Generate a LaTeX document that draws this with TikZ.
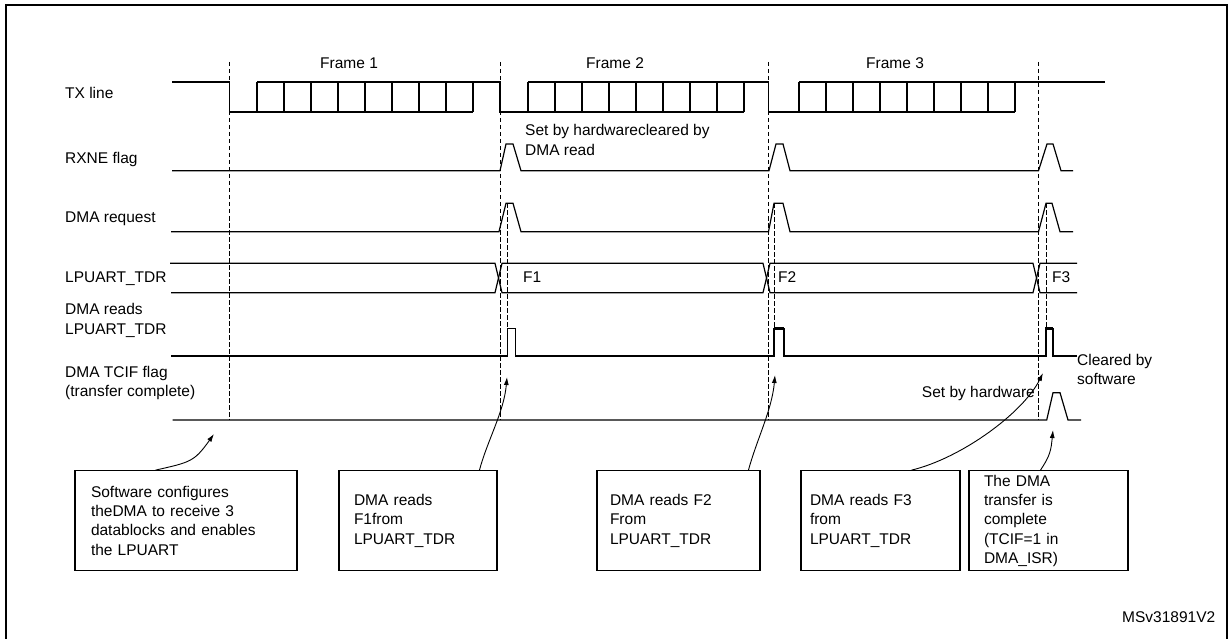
\documentclass[tikz,border=0pt]{standalone}
\usepackage{fontspec}
\setmainfont{Liberation Sans}
\usetikzlibrary{arrows.meta,calc}
\begin{document}
\begin{tikzpicture}[x=1pt,y=-1pt,
  every node/.style={font=\fontsize{15.5}{19.3}\selectfont, inner sep=0pt},
  sig/.style={line width=1.2pt, line join=miter},
  thk/.style={line width=2.4pt},
  guide/.style={dash pattern=on 4.5pt off 2.5pt, line width=1pt},
  note/.style={draw, line width=1.1pt, minimum height=100pt, align=left, inner ysep=0pt},
  arr/.style={line width=0.9pt, -{Latex[length=8pt,width=5pt]}},
  lbl/.style={anchor=base west},
  lbls/.style={anchor=north west, align=left},
]
\useasboundingbox (0,0) rectangle (1231,639);
% frame border
\draw[line width=2pt] (6,639) -- (6,5.5) -- (1227,5.5) -- (1227,639);

% signal names
\node[lbl] (ltx) at (65,98.8) {TX line};
\node[lbl] (lrx) at (65,163.5) {RXNE flag};
\node[lbl] (ldr) at (65,222.2) {DMA request};
\node[lbl] (ltdr) at (65,282.2) {LPUART\_TDR};
\node[lbls] (lrd) at (65,303.5) {DMA reads\\LPUART\_TDR};
\node[lbls] (ltc) at (65,366.2) {DMA TCIF flag\\(transfer complete)};

% frame labels
\node[lbl] (fr1) at (320,68.5) {Frame 1};
\node[lbl] (fr2) at (586,68.5) {Frame 2};
\node[lbl] (fr3) at (866,68.5) {Frame 3};

% dashed time markers
\foreach \x in {229.5,500,768.5,1038.5} \draw[guide] (\x,62) -- (\x,420);
\foreach \x in {507.5,774,1046} \draw[guide] (\x,203.3) -- (\x,356);

% TX line
\draw[sig] (172,82) -- (229.5,82) -- (229.5,112) -- (473,112)
  (257,82) -- (500,82) -- (500,112) -- (744,112)
  (528,82) -- (768.5,82) -- (768.5,112) -- (1015,112)
  (799,82) -- (1105,82);
\foreach \s in {257,528,799}
  \foreach \k in {0,...,8}
    \draw[sig] (\s+\k*27,82) -- (\s+\k*27,112);

% RXNE flag
\draw[sig] (172,170.7) -- (500,170.7) -- (506,144) -- (513,144) -- (521,170.7)
  -- (769,170.7) -- (776,144) -- (783,144) -- (790,170.7)
  -- (1038.5,170.7) -- (1047,144) -- (1053,144) -- (1061,170.7) -- (1073,170.7);
\node[lbls] (rxt) at (525,124.5) {Set by hardwarecleared by\\DMA read};

% DMA request
\draw[sig] (171,231.7) -- (499,231.7) -- (506,203.3) -- (513,203.3) -- (521,231.7)
  -- (768.5,231.7) -- (774,203.3) -- (783,203.3) -- (790,231.7)
  -- (1038.5,231.7) -- (1046,203.3) -- (1052,203.3) -- (1060,231.7) -- (1073,231.7);

% LPUART_TDR bus
\draw[sig] (170,263.3) -- (495,263.3) -- (502,292.7) -- (763,292.7) -- (770,263.3)
  -- (1033,263.3) -- (1040,292.7) -- (1077,292.7);
\draw[sig] (171,292.7) -- (495,292.7) -- (502,263.3) -- (763,263.3) -- (770,292.7)
  -- (1033,292.7) -- (1040,263.3) -- (1077,263.3);
\node[lbl] (bf1) at (523,282.2) {F1};
\node[lbl] (bf2) at (778,282.2) {F2};
\node[lbl] (bf3) at (1052,282.2) {F3};

% DMA reads LPUART_TDR
\draw[sig] (171,356) -- (507.5,356) -- (507.5,328.3) -- (515.7,328.3) -- (515.7,356)
  -- (774,356) -- (774,328.3) -- (784,328.3) -- (784,356)
  -- (1046,356) -- (1046,328.3) -- (1053,328.3) -- (1053,356) -- (1077,356);
\draw[thk] (774,328.3) -- (784,328.3);
\draw[thk] (1046,356) -- (1046,328.3) -- (1053,328.3);
\node[lbls] (clr) at (1077,353.8) {Cleared by\\software};

% DMA TCIF flag
\draw[sig] (172.7,420) -- (1046.7,420) -- (1053,392.7) -- (1060,392.7) -- (1068,420) -- (1081,420);
\node[anchor=base east] (sbh) at (1035,397.2) {Set by hardware};

% notes
\node[note, text width=190pt, inner xsep=16pt] (sw) at (186,520.7)
  {Software configures\\theDMA to receive 3\\datablocks and enables\\the LPUART};
\node[note, text width=128pt, inner xsep=15pt] (n1) at (418,520.7)
  {DMA reads\\F1from\\LPUART\_TDR};
\node[note, text width=137pt, inner xsep=13pt] (n2) at (678.5,520.7)
  {DMA reads F2\\From\\LPUART\_TDR};
\node[note, text width=141pt, inner xsep=9pt] (n3) at (880.5,520.7)
  {DMA reads F3\\from\\LPUART\_TDR};
\node[note, text width=129pt, inner xsep=15pt] (n4) at (1048.5,520.7)
  {The DMA\\transfer is\\complete\\(TCIF=1 in\\DMA\_ISR)};

% arrow targets
\coordinate (t0) at (214,434);
\coordinate (t1) at (507,377);
\coordinate (t2) at (775,375);
\coordinate (t3) at (1043,373);
\coordinate (t4) at (1053,430);

\draw[arr] ($(sw.north west)+(81,0)$) .. controls +(35,-8) and +(-20,28) .. (t0);
\draw[arr] ($(n1.north west)+(141,0)$) .. controls +(8,-30) and +(-3,35) .. (t1);
\draw[arr] ($(n2.north west)+(152,0)$) .. controls +(8,-30) and +(-3,35) .. (t2);
\draw[arr] ($(n3.north west)+(111,0)$) .. controls +(50,-12) and +(-20,40) .. (t3);
\draw[arr] ($(n4.north west)+(72,0)$) .. controls +(10,-15) and +(-2,20) .. (t4);

\node[lbl] (ref) at (1122,622.5) {MSv31891V2};
\end{tikzpicture}
\end{document}
